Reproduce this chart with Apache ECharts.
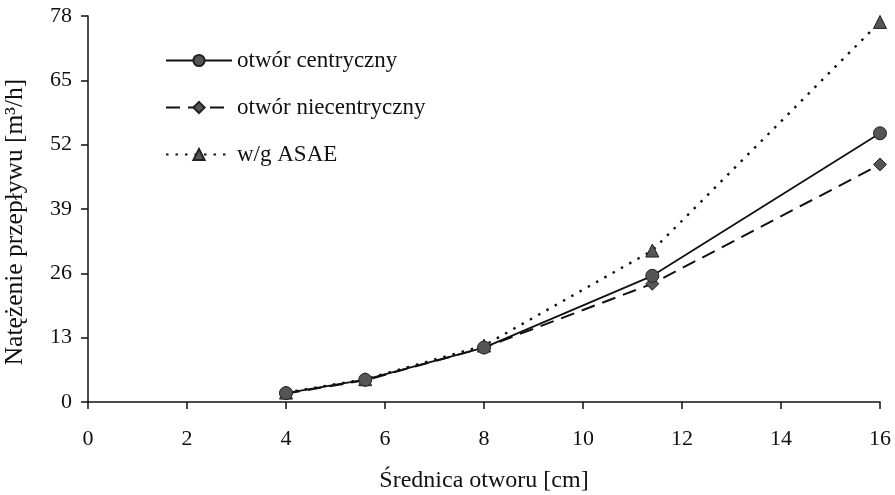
<!DOCTYPE html>
<html>
<head>
<meta charset="utf-8">
<script src="https://cdn.jsdelivr.net/npm/echarts@6/dist/echarts.min.js"></script>
</head>
<body style="margin:0;background:#fff">
<div id="main" style="width:895px;height:495px;"></div>
<script>
// średnica otworu [cm]
var srednica = [4, 5.6, 8, 11.4, 16]
var centryczny = [1.8, 4.5, 11, 25.5, 54.3]
var niecentryczny = [1.7, 4.4, 11, 23.9, 48]
var asae = [1.9, 4.6, 11.4, 30.6, 76.8]
var xTicks = [0, 2, 4, 6, 8, 10, 12, 14, 16]
var yTicks = [0, 13, 26, 39, 52, 65, 78]

function pary(ys) {
  return srednica.map(function (x, i) { return [x, ys[i]] })
}

var font = 'Liberation Serif'
var myChart = echarts.init(document.getElementById('main'))
myChart.setOption({
  animation: false,
  textStyle: { fontFamily: font },
  grid: { left: 88, right: 15, top: 16, bottom: 93, containLabel: false, outerBoundsMode: 'none' },
  legend: {
    orient: 'vertical',
    left: 160,
    top: 44,
    itemGap: 24,
    itemWidth: 66,
    itemHeight: 14,
    textStyle: { fontFamily: font, fontSize: 23, color: '#111' },
    data: ['otwór centryczny', 'otwór niecentryczny', 'w/g ASAE']
  },
  xAxis: {
    type: 'value',
    min: 0,
    max: 16,
    interval: 2,
    name: 'Średnica otworu [cm]',
    nameLocation: 'middle',
    nameGap: 67,
    nameTextStyle: { fontFamily: font, fontSize: 24, color: '#111' },
    axisLine: { lineStyle: { color: '#111', width: 1.5 } },
    axisTick: { inside: false, length: 7, lineStyle: { color: '#111', width: 1.5 } },
    axisLabel: {
      fontFamily: font, fontSize: 22, color: '#111', margin: 26,
      formatter: function (v) { return xTicks.indexOf(v) >= 0 ? v : '' }
    },
    splitLine: { show: false }
  },
  yAxis: {
    type: 'value',
    min: 0,
    max: 78,
    interval: 13,
    name: 'Natężenie przepływu [m³/h]',
    nameLocation: 'middle',
    nameGap: 60,
    nameTextStyle: { fontFamily: font, fontSize: 25.5, color: '#111', padding: [0, 26, 0, 0] },
    axisLine: { show: true, lineStyle: { color: '#111', width: 1.5 } },
    axisTick: { show: true, inside: false, length: 7, lineStyle: { color: '#111', width: 1.5 } },
    axisLabel: {
      fontFamily: font, fontSize: 22, color: '#111', margin: 16,
      formatter: function (v) { return yTicks.indexOf(v) >= 0 ? v : '' }
    },
    splitLine: { show: false }
  },
  series: [
    {
      name: 'otwór centryczny',
      type: 'line',
      data: pary(centryczny),
      symbol: 'circle',
      symbolSize: 13,
      lineStyle: { color: '#111', width: 1.8, type: 'solid' },
      itemStyle: { color: '#555', borderColor: '#222', borderWidth: 1 },
      z: 3
    },
    {
      name: 'otwór niecentryczny',
      type: 'line',
      data: pary(niecentryczny),
      symbol: 'diamond',
      symbolSize: 13,
      lineStyle: { color: '#111', width: 2, type: [14, 8] },
      itemStyle: { color: '#555', borderColor: '#222', borderWidth: 1 },
      z: 2
    },
    {
      name: 'w/g ASAE',
      type: 'line',
      data: pary(asae),
      symbol: 'triangle',
      symbolSize: 13,
      lineStyle: { color: '#111', width: 2.4, type: [2.5, 7] },
      itemStyle: { color: '#555', borderColor: '#222', borderWidth: 1 },
      z: 1
    }
  ]
})
</script>
</body>
</html>
